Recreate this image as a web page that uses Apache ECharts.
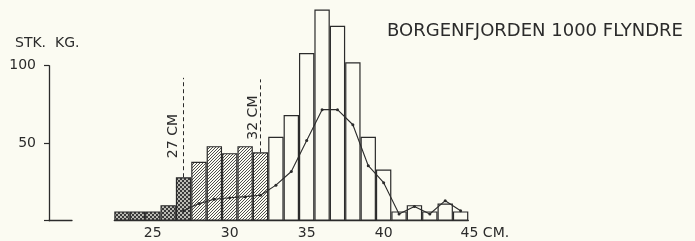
<!DOCTYPE html>
<html><head><meta charset="utf-8">
<script src="https://cdn.jsdelivr.net/npm/echarts@6/dist/echarts.min.js"></script>
<style>html,body{margin:0;padding:0;background:#fbfbf2}#c{width:695px;height:241px}</style>
</head><body><div id="c"></div>
<script>
// ---- data ----
const categories = ['23','24','25','26','27','28','29','30','31','32','33','34','35','36','37','38','39','40','41','42','43','44','45'];
const stkValues  = [6, 6, 6, 10, 28, 38, 48, 43.5, 48, 44, 54, 68, 108, 136, 125.5, 102, 54, 33, 6, 10, 6, 11, 6];
const kgValues   = [null, null, null, null, 6.4, 11, 13.8, 14.8, 15.5, 16.4, 22.9, 31.7, 51.7, 71.5, 71.5, 61.8, 35.4, 24.5, 4.3, 9.2, 4.3, 12.9, 6.4];
const xTickLabels = ['25','30','35','40','45'];
const yTickLabels = [50, 100];
const limitLabels = ['27 CM', '32 CM'];
const limitCats = ['27', '32'];

const INK = '#2b2b2b';
const FONT = 'DejaVu Sans';

function makeDots(){
  const c = document.createElement('canvas'); c.width = 4; c.height = 4;
  const g = c.getContext('2d');
  g.fillStyle = '#3a3a3a'; g.fillRect(0,0,4,4);
  g.fillStyle = '#f4f4ea';
  g.beginPath(); g.arc(1,1,0.95,0,Math.PI*2); g.fill();
  g.beginPath(); g.arc(3,3,0.95,0,Math.PI*2); g.fill();
  return c;
}
function makeHatch(){
  const s = 6;
  const c = document.createElement('canvas'); c.width = s; c.height = s;
  const g = c.getContext('2d');
  g.fillStyle = '#fbfbf2'; g.fillRect(0,0,s,s);
  g.strokeStyle = '#3a3a3a'; g.lineWidth = 0.9;
  for (let x = -s; x <= s; x += 3) { g.beginPath(); g.moveTo(x, s); g.lineTo(x + s, 0); g.stroke(); }
  return c;
}
const dots = {image: makeDots(), repeat: 'repeat'};
const hatch = {image: makeHatch(), repeat: 'repeat'};

const lo = +limitCats[0], hi = +limitCats[1];
const barData = stkValues.map((v, i) => {
  const cm = +categories[i];
  let color = '#fbfbf2';
  if (cm <= lo) color = dots; else if (cm <= hi) color = hatch;
  return {value: v, itemStyle: {color: color}};
});

const chart = echarts.init(document.getElementById('c'), null, {renderer: 'canvas'});
chart.setOption({
  backgroundColor: '#fbfbf2',
  animation: false,
  title: [
    {text: 'BORGENFJORDEN 1000 FLYNDRE', left: 382, top: 17,
     textStyle: {fontFamily: FONT, fontSize: 18, fontWeight: 'normal', color: INK}},
    {text: 'STK.  KG.', left: 10, top: 31,
     textStyle: {fontFamily: FONT, fontSize: 14, fontWeight: 'normal', color: INK}}
  ],
  grid: [
    {left: 114.3, right: 226.7, top: 3.3, bottom: 20.3},
    {left: 49, width: 23, top: 65.7, bottom: 20.3}
  ],
  xAxis: [
    {gridIndex: 0, type: 'category',
     data: categories.map(c => c === xTickLabels[xTickLabels.length-1] ? {value: c, textStyle: {align: 'left'}} : c),
     axisLine: {show: true, lineStyle: {color: INK, width: 1.3}},
     axisTick: {show: false},
     axisLabel: {interval: (idx, val) => xTickLabels.includes(val), margin: 6,
       fontFamily: FONT, fontSize: 14, color: INK,
       formatter: v => v === xTickLabels[xTickLabels.length-1] ? v + ' CM.' : v}},
    {gridIndex: 1, type: 'value', min: 0, max: 1,
     axisLine: {show: true, onZero: false, lineStyle: {color: INK, width: 1.3}},
     axisTick: {show: false}, axisLabel: {show: false}, splitLine: {show: false}}
  ],
  yAxis: [
    {gridIndex: 0, type: 'value', min: 0, max: 140, show: false, splitLine: {show: false}},
    {gridIndex: 1, type: 'value', min: 0, max: 100, interval: 50,
     axisLine: {show: true, lineStyle: {color: INK, width: 1.3}},
     axisTick: {show: true, length: 5, lineStyle: {color: INK, width: 1.2}},
     splitLine: {show: false},
     axisLabel: {margin: 13, fontFamily: FONT, fontSize: 14, color: INK,
       formatter: v => yTickLabels.includes(v) ? String(v) : ''}}
  ],
  series: [
    {type: 'bar', xAxisIndex: 0, yAxisIndex: 0, data: barData,
     barCategoryGap: '0%', barGap: '0%',
     itemStyle: {borderColor: INK, borderWidth: 1.2},
     markLine: {silent: true, symbol: 'none', animation: false,
       lineStyle: {type: [4, 3], color: INK, width: 1},
       label: {show: false},
       data: [
         [{coord: [limitCats[0], stkValues[categories.indexOf(limitCats[0])]]}, {coord: [limitCats[0], 92]}],
         [{coord: [limitCats[1], stkValues[categories.indexOf(limitCats[1])]]}, {coord: [limitCats[1], 91]}]
       ]},
     markPoint: {silent: true, symbol: 'circle', symbolSize: 0, animation: false,
       label: {show: true, rotate: 90, color: INK, fontFamily: FONT, fontSize: 14,
         formatter: p => p.name},
       data: [
         {name: limitLabels[0], coord: [limitCats[0], 54.5], label: {offset: [0, -10]}},
         {name: limitLabels[1], coord: [limitCats[1], 66.4], label: {offset: [0, -7]}}
       ]}
    },
    {type: 'line', xAxisIndex: 0, yAxisIndex: 0, data: kgValues, z: 5,
     symbol: 'circle', symbolSize: 3, showSymbol: true,
     lineStyle: {color: INK, width: 1.1},
     itemStyle: {color: INK}}
  ]
});
</script></body></html>
